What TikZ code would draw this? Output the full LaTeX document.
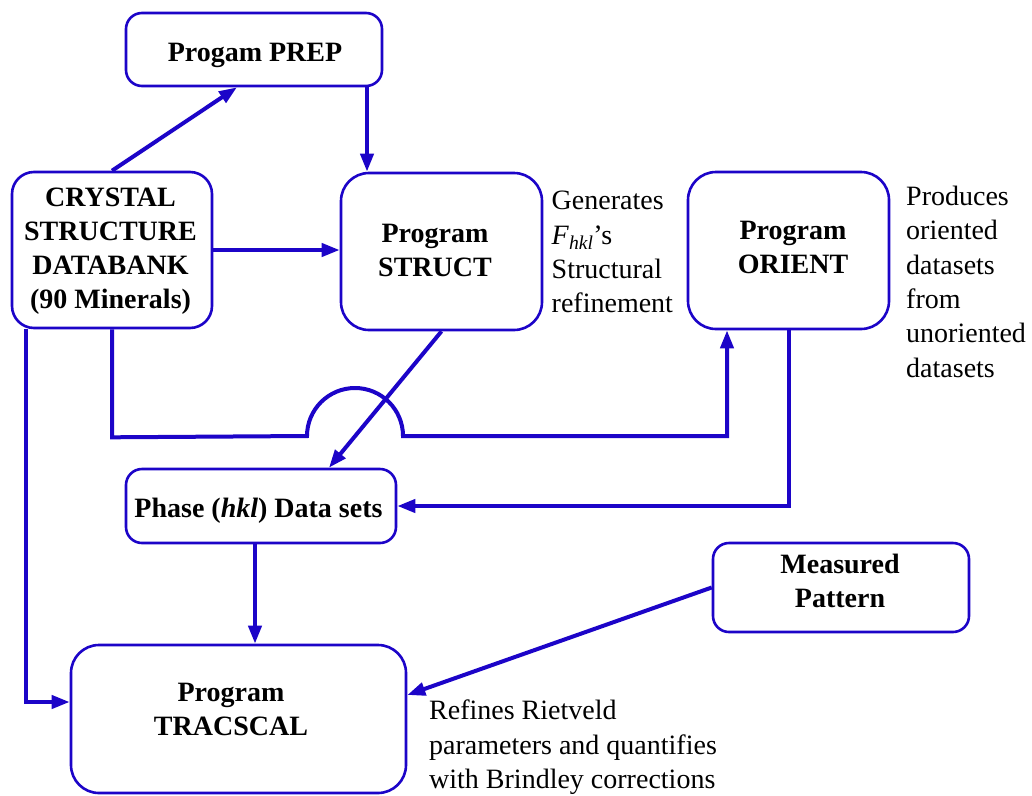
\documentclass[tikz,border=0pt]{standalone}
\usepackage{fontspec}
\setmainfont{Liberation Serif}
\usetikzlibrary{arrows.meta,calc}
\definecolor{flowblue}{RGB}{28,4,200}
\tikzset{
  box/.style={draw=flowblue, line width=2.6pt, rounded corners=#1, inner sep=0pt, fill=white},
  box/.default=16pt,
  btext/.style={font=\fontsize{28pt}{34pt}\selectfont\bfseries, align=center, inner sep=0pt, anchor=north},
  stext/.style={font=\fontsize{28pt}{34.3pt}\selectfont, align=left, inner sep=0pt, anchor=north west},
  conn/.style={draw=flowblue, line width=4pt},
  arr/.style={conn, -{Triangle[length=18pt,width=13pt]}},
}
\begin{document}
\begin{tikzpicture}[x=1pt,y=-1pt]
\useasboundingbox (0,0) rectangle (1032,795);
% boxes
\node[box, minimum width=256pt, minimum height=73pt] (prep) at (254,49.5) {};
\node[box=22pt, minimum width=200pt, minimum height=156pt] (crystal) at (112,250) {};
\node[box=28pt, minimum width=201pt, minimum height=157pt] (struct) at (441.5,251.5) {};
\node[box=28pt, minimum width=201pt, minimum height=157pt] (orient) at (788.5,250.5) {};
\node[box, minimum width=270pt, minimum height=74pt] (phase) at (261,506) {};
\node[box, minimum width=256pt, minimum height=89pt] (measured) at (841,587.5) {};
\node[box=28pt, minimum width=335pt, minimum height=148pt] (tracscal) at (238.5,719) {};
% box texts
\node[btext] (tprep) at (255,42.7) {Progam PREP};
\node[btext] (tcrystal) at (110.5,188) {CRYSTAL\\STRUCTURE\\DATABANK\\(90 Minerals)};
\node[btext] (tstruct) at (435,224) {Program\\STRUCT};
\node[btext] (torient) at (793,221) {Program\\ORIENT};
\node[btext] (tphase) at (258.5,498) {Phase (\textit{hkl}) Data sets};
\node[btext] (tmeasured) at (840,554) {Measured\\Pattern};
\node[btext] (ttracscal) at (231,683) {Program\\TRACSCAL};
% side texts
\node[stext] (gen) at (551.5,191) {Generates\\\textit{F}\textsubscript{\textit{hkl}}’s\\Structural\\refinement};
\node[stext] (prod) at (906,186) {Produces\\oriented\\datasets\\from\\unoriented\\datasets};
\node[stext] (ref) at (429,700) {Refines Rietveld\\parameters and quantifies\\with Brindley corrections};
% coordinates for connector ends
\coordinate (c1) at ($(prep.south)+(-17,0)$);
\coordinate (c2) at ($(prep.south)+(113,0)$);
\coordinate (c4a) at ($(crystal.south)+(0,108)$);
\coordinate (c4b) at (307,436);
\coordinate (c4c) at (727,436);
\coordinate (c5) at ($(phase.north)+(68,0)$);
\coordinate (c7) at ($(phase.south)+(-6,0)$);
\coordinate (c8) at ($(crystal.south west)+(15,0)$);
\coordinate (c8t) at ($(tracscal.west)+(0,-17)$);
\coordinate (c9) at ($(tracscal.east)+(0,-24)$);
% connectors
\draw[arr] (crystal.north) -- (c1);
\draw[arr] (c2) -- (c2 |- struct.north);
\draw[arr] (crystal.east) -- (crystal.east -| struct.west);
\draw[arr] (crystal.south) -- (c4a) -- (c4b) arc[start angle=180, end angle=360, radius=48] -- (c4c) -- (c4c |- orient.south);
\draw[arr] (struct.south) -- (c5);
\draw[arr] (orient.south) |- (phase.east);
\draw[arr] (c7) -- (c7 |- tracscal.north);
\draw[arr] (c8) |- (c8t);
\draw[arr] (measured.west) -- (c9);
\end{tikzpicture}
\end{document}
